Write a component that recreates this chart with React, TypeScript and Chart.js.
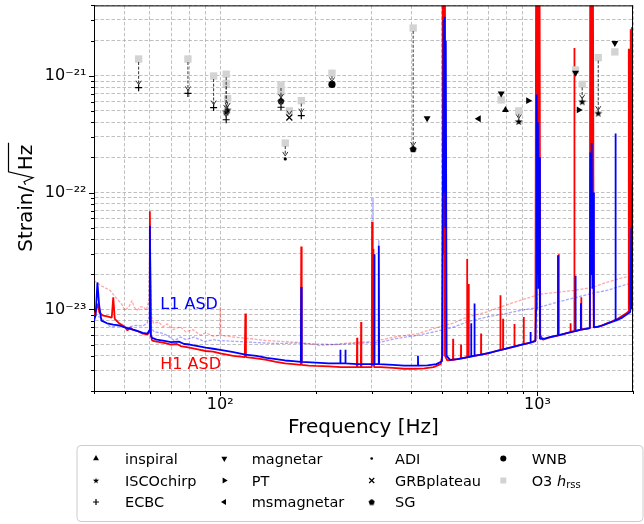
import React, { useEffect, useRef } from "react";
import { Chart, registerables } from "chart.js";
import { drawPoint } from "chart.js/helpers";

Chart.register(...registerables);

const FONT = "'DejaVu Sans', 'Noto Sans', sans-serif";

// ---------- axes ----------
const X_MIN = 40;
const X_MAX = 2000;
const Y_MIN = 2e-24;
const Y_MAX = 4e-21;
const X_TICKS = [40, 50, 60, 70, 80, 90, 100, 200, 300, 400, 500, 600, 700, 800, 900, 1000, 2000];
const X_TICK_LABELS = ["", "", "", "", "", "", "10²", "", "", "", "", "", "", "", "", "10³", ""];
const Y_TICKS = [
  2e-24, 3e-24, 4e-24, 5e-24, 6e-24, 7e-24, 8e-24, 9e-24,
  1e-23, 2e-23, 3e-23, 4e-23, 5e-23, 6e-23, 7e-23, 8e-23, 9e-23,
  1e-22, 2e-22, 3e-22, 4e-22, 5e-22, 6e-22, 7e-22, 8e-22, 9e-22,
  1e-21, 2e-21, 3e-21, 4e-21,
];
const Y_TICK_LABELS = [
  "", "", "", "", "", "", "", "",
  "10⁻²³", "", "", "", "", "", "", "", "",
  "10⁻²²", "", "", "", "", "", "", "", "",
  "10⁻²¹", "", "", "",
];

// ---------- detector ASDs: [frequency Hz, strain/sqrt(Hz)] ----------
const H1_ASD: [number, number][] = [
  [40, 8.8e-24], [40.5, 9.6e-24], [41, 1.12e-23], [41.6, 9.4e-24], [42.5, 8.9e-24], [44, 8.7e-24],
  [45.5, 8.5e-24], [46, 1.27e-23], [46.5, 8.3e-24], [48, 7.6e-24], [50, 7.1e-24], [51, 6.6e-24],
  [52, 7.0e-24], [53, 6.7e-24], [55, 6.5e-24], [57, 6.2e-24], [59, 6.1e-24], [59.7, 6.4e-24],
  [60, 6.9e-23], [60.4, 6.0e-24], [61, 5.4e-24], [63, 5.3e-24], [66, 5.2e-24], [70, 5.0e-24],
  [73, 5.05e-24], [75, 4.85e-24], [80, 4.7e-24], [85, 4.55e-24], [90, 4.4e-24], [95, 4.35e-24],
  [100, 4.2e-24], [110, 4.0e-24], [119.5, 3.9e-24], [120, 9.2e-24], [120.5, 3.9e-24], [130, 3.8e-24],
  [140, 3.7e-24], [150, 3.55e-24], [160, 3.45e-24], [170, 3.4e-24], [179.5, 3.35e-24], [180, 3.45e-23],
  [180.6, 3.35e-24], [190, 3.3e-24], [200, 3.28e-24], [220, 3.25e-24], [240, 3.2e-24], [260, 3.2e-24],
  [269.5, 3.2e-24], [270, 5.7e-24], [270.5, 3.2e-24], [277.5, 3.2e-24], [278, 7.8e-24], [278.5, 3.2e-24],
  [290, 3.2e-24], [300.3, 3.2e-24], [301, 5.6e-23], [302, 3.3e-24], [304, 3.3e-23], [305.5, 3.2e-24],
  [320, 3.2e-24], [350, 3.15e-24], [380, 3.1e-24], [410, 3.1e-24], [440, 3.12e-24], [470, 3.2e-24],
  [495, 3.4e-24], [501, 4e-24], [502.5, 1e-20], [504, 3e-23], [505.5, 1e-20], [507, 4e-23],
  [508.5, 1e-20], [511, 4e-24], [520, 3.65e-24], [541.5, 3.7e-24], [542, 5.6e-24], [542.5, 3.7e-24],
  [573.5, 3.8e-24], [574, 5e-24], [574.5, 3.8e-24], [599.5, 3.9e-24], [600, 2.7e-23], [600.7, 3.9e-24],
  [606.5, 3.9e-24], [607, 1.65e-23], [607.6, 3.9e-24], [630, 4.0e-24], [663.5, 4.1e-24], [664, 6.2e-24],
  [664.5, 4.1e-24], [700, 4.2e-24], [740, 4.4e-24], [763.5, 4.5e-24], [764, 1.32e-23], [764.6, 4.5e-24],
  [778.5, 4.55e-24], [779, 8.3e-24], [779.6, 4.55e-24], [810, 4.65e-24], [845.5, 4.8e-24], [846, 7.5e-24],
  [846.6, 4.8e-24], [880, 4.95e-24], [904.5, 5.05e-24], [905, 8.6e-24], [905.6, 5.05e-24], [950, 5.2e-24],
  [985, 5.4e-24], [990, 1e-20], [995, 5e-23], [1000, 1e-20], [1005, 3e-23], [1010, 1e-20],
  [1015, 1e-20], [1020, 6e-24], [1040, 5.5e-24], [1080, 5.7e-24], [1120, 5.85e-24], [1166, 6.0e-24],
  [1167, 2.97e-23], [1168, 6.0e-24], [1220, 6.2e-24], [1270, 6.4e-24], [1271, 7.6e-24], [1272, 6.4e-24],
  [1305.5, 6.5e-24], [1307, 1.73e-21], [1308.5, 6.5e-24], [1340, 6.6e-24], [1373, 6.7e-24], [1374, 1.27e-23],
  [1375, 6.7e-24], [1420, 6.8e-24], [1462, 6.9e-24], [1466, 1e-20], [1473, 5e-23], [1480, 1e-20],
  [1488, 4e-23], [1495, 1e-20], [1504, 7e-24], [1550, 7.1e-24], [1600, 7.3e-24], [1700, 7.8e-24],
  [1800, 8.4e-24], [1900, 9.2e-24], [1936, 9.6e-24], [1940, 1.7e-21], [1946, 1.1e-23], [1953, 1.7e-21],
  [1960, 1.2e-23], [1967, 2.5e-21], [1975, 1.2e-23], [1983, 2.6e-21], [1991, 1.4e-23], [1998, 2.6e-21],
  [2000, 1.1e-23],
];

const L1_ASD: [number, number][] = [
  [40, 8.0e-24], [40.5, 9e-24], [41, 1.7e-23], [41.5, 1.1e-23], [42.2, 8.0e-24], [44, 7.6e-24],
  [46, 7.4e-24], [48, 7.3e-24], [50, 7.0e-24], [52, 6.8e-24], [55, 6.5e-24], [57, 6.3e-24],
  [59, 6.2e-24], [59.7, 6.6e-24], [60, 5.2e-23], [60.4, 6.0e-24], [61, 5.7e-24], [63, 5.5e-24],
  [66, 5.4e-24], [70, 5.25e-24], [74, 5.3e-24], [77, 5.05e-24], [80, 5.0e-24], [85, 4.85e-24],
  [90, 4.7e-24], [95, 4.6e-24], [100, 4.5e-24], [110, 4.3e-24], [120, 4.1e-24], [130, 4.0e-24],
  [140, 3.85e-24], [150, 3.75e-24], [160, 3.65e-24], [170, 3.6e-24], [179.5, 3.55e-24], [180, 1.55e-23],
  [180.6, 3.55e-24], [200, 3.5e-24], [220, 3.45e-24], [238.5, 3.45e-24], [239, 4.5e-24], [239.5, 3.45e-24],
  [247.5, 3.45e-24], [248, 4.5e-24], [248.5, 3.45e-24], [270, 3.4e-24], [290, 3.4e-24], [305.4, 3.4e-24],
  [306, 2.97e-23], [306.8, 3.4e-24], [315.4, 3.4e-24], [316, 3.5e-23], [316.8, 3.4e-24], [350, 3.35e-24],
  [380, 3.3e-24], [419.5, 3.3e-24], [420, 4.0e-24], [420.5, 3.3e-24], [450, 3.32e-24], [480, 3.4e-24],
  [500, 3.6e-24], [503, 1e-22], [506, 3e-21], [508, 1e-22], [510, 3.2e-21], [512, 5e-23],
  [514, 2e-21], [517, 4e-24], [530, 3.7e-24], [560, 3.75e-24], [590, 3.85e-24], [617.5, 3.95e-24],
  [618, 7.6e-24], [618.6, 3.95e-24], [632.5, 4.0e-24], [633, 1.12e-23], [633.6, 4.0e-24], [680, 4.15e-24],
  [720, 4.3e-24], [780, 4.55e-24], [830, 4.75e-24], [880, 4.95e-24], [950.5, 5.2e-24], [951, 6.4e-24],
  [951.6, 5.2e-24], [985, 5.35e-24], [990, 1e-23], [994, 6.9e-22], [999, 2e-23], [1003, 4e-22],
  [1008, 1.5e-23], [1012, 2e-22], [1018, 5.6e-24], [1060, 5.65e-24], [1100, 5.8e-24], [1159, 6.0e-24],
  [1160, 2.9e-23], [1161, 6.0e-24], [1220, 6.2e-24], [1317, 6.5e-24], [1318, 1.94e-23], [1319, 6.5e-24],
  [1369, 6.7e-24], [1370, 1.13e-23], [1371, 6.7e-24], [1420, 6.8e-24], [1462, 6.9e-24], [1468, 2.2e-22],
  [1475, 2e-23], [1482, 2.65e-22], [1490, 1.5e-23], [1498, 1e-22], [1506, 7e-24], [1560, 7.1e-24],
  [1650, 7.5e-24], [1760, 8.0e-24], [1762, 3.2e-22], [1764, 8.0e-24], [1850, 8.5e-24], [1930, 9.2e-24],
  [1960, 9.5e-24], [1975, 5e-23], [1985, 1e-23], [1994, 1.2e-22], [2000, 9.8e-24],
];

// faint (reference-run) ASDs
const H1_REF_ASD: [number, number][] = [
  [40, 1.77e-23], [42, 1.6e-23], [45, 1.45e-23], [47, 1.25e-23], [49, 1.1e-23], [50, 9.8e-24],
  [51.5, 1.05e-23], [52.7, 1.19e-23], [53.5, 1.05e-23], [54.6, 9.8e-24], [56, 1.05e-23], [57.3, 1.05e-23],
  [58.5, 9.8e-24], [59.6, 1.2e-23], [60, 5e-23], [60.5, 9e-24], [61.6, 7.6e-24], [64, 7.8e-24],
  [66, 7.1e-24], [68, 7.5e-24], [71, 6.7e-24], [74.8, 7.1e-24], [78, 6.4e-24], [82, 6.7e-24],
  [86.5, 6.0e-24], [90, 6.3e-24], [95, 5.9e-24], [99.5, 6.0e-24], [100, 1.05e-23], [100.5, 6.0e-24],
  [110, 5.8e-24], [125, 5.6e-24], [140, 5.4e-24], [160, 5.3e-24], [179, 5.2e-24], [206, 4.9e-24],
  [228, 5.0e-24], [263, 5.2e-24], [300, 5.3e-24], [301, 3e-23], [302.5, 5.3e-24], [355, 5.8e-24],
  [420, 6.2e-24], [483, 7.0e-24], [540, 7.6e-24], [600, 8.6e-24], [693, 9.5e-24], [790, 1.08e-23],
  [886, 1.2e-23], [1022, 1.35e-23], [1150, 1.4e-23], [1300, 1.45e-23], [1500, 1.55e-23], [1650, 1.7e-23],
  [1832, 1.85e-23], [2000, 1.95e-23],
];

const L1_REF_ASD: [number, number][] = [
  [40, 9e-24], [42, 8.5e-24], [45, 7.1e-24], [48, 7.2e-24], [51, 7.0e-24], [54, 7.3e-24],
  [57, 7.2e-24], [58.8, 7.6e-24], [59.6, 8.6e-24], [60, 4e-23], [60.5, 7e-24], [61.9, 6.4e-24],
  [65, 6.3e-24], [68, 6.0e-24], [71.6, 5.4e-24], [75, 5.8e-24], [78, 5.5e-24], [82.8, 5.8e-24],
  [89, 5.3e-24], [95, 5.5e-24], [100, 5.4e-24], [115, 5.3e-24], [130, 5.2e-24], [150, 5.1e-24],
  [175, 5.15e-24], [200, 5.05e-24], [230, 5.0e-24], [263, 5.1e-24], [302, 5.2e-24], [303, 9e-23],
  [304, 5.2e-24], [315.5, 5.2e-24], [316, 3.9e-23], [316.7, 5.2e-24], [355, 5.6e-24], [420, 6.0e-24],
  [483, 6.5e-24], [540, 7.0e-24], [600, 7.8e-24], [693, 8.6e-24], [790, 9.2e-24], [886, 9.8e-24],
  [1022, 1.05e-23], [1150, 1.15e-23], [1300, 1.25e-23], [1500, 1.38e-23], [1650, 1.45e-23], [1832, 1.58e-23],
  [2000, 1.7e-23],
];

// ---------- search sensitivities: [frequency Hz, h_rss] ----------
const INSPIRAL: [number, number][] = [[792.5, 5.1e-22]];
const ISCOCHIRP: [number, number][] = [[104.4, 4.9e-22], [105.5, 5.1e-22], [873, 4.06e-22], [1383, 6.0e-22], [1554, 4.78e-22]];
const ECBC: [number, number][] = [[55.3, 7.9e-22], [79.1, 7.06e-22], [95.3, 5.34e-22], [104.4, 4.2e-22], [155.4, 5.37e-22], [180.1, 4.55e-22]];
const MAGNETAR: [number, number][] = [[448.8, 4.33e-22], [768.4, 7.06e-22], [1318, 1.06e-21], [1753, 1.91e-21]];
const PT: [number, number][] = [[934.8, 6.12e-22], [1349, 5.1e-22]];
const MSMAGNETAR: [number, number][] = [[652.8, 4.28e-22]];
const ADI: [number, number][] = [[160.3, 1.94e-22]];
const GRBPLATEAU: [number, number][] = [[165.1, 4.39e-22]];
const SG: [number, number][] = [[405.6, 2.36e-22], [155.4, 6.09e-22]];
const WNB: [number, number][] = [[225, 8.43e-22]];
const O3_HRSS: [number, number][] = [
  [55.3, 1.39e-21], [79.1, 1.39e-21], [95.3, 9.94e-22], [104.4, 1.03e-21], [104.4, 8.6e-22], [105.5, 6.37e-22],
  [155.4, 8.33e-22], [155.4, 7.3e-22], [160.3, 2.65e-22], [165.1, 5.0e-22], [180.1, 6.12e-22], [225, 1.05e-21],
  [405.6, 2.56e-21], [768.4, 6.21e-22], [873, 5.0e-22], [1318, 1.12e-21], [1383, 8.43e-22], [1554, 1.43e-21],
  [1753, 1.6e-21],
];

// arrows from O3 h_rss down to earlier values
const ARROW_FREQ = [55.3, 79.1, 95.3, 104.4, 104.4, 105.5, 155.4, 155.4, 160.3, 165.1, 180.1, 225, 405.6, 873, 1383, 1554];
const ARROW_FROM = [1.39e-21, 1.39e-21, 9.94e-22, 1.03e-21, 8.6e-22, 6.37e-22, 8.33e-22, 7.3e-22, 2.65e-22, 5.0e-22, 6.12e-22, 1.05e-21, 2.56e-21, 5.0e-22, 8.43e-22, 1.43e-21];
const ARROW_TO = [7.9e-22, 7.06e-22, 5.34e-22, 4.2e-22, 4.9e-22, 5.1e-22, 6.09e-22, 5.37e-22, 1.94e-22, 4.39e-22, 4.55e-22, 8.43e-22, 2.36e-22, 4.06e-22, 6.0e-22, 4.78e-22];

const ASD_LABELS = ["L1 ASD", "H1 ASD"];
const ASD_LABEL_FREQ = [64.7, 64.7];
const ASD_LABEL_VALUE = [1.1e-23, 3.33e-24];

const LEGEND_LABELS = ["inspiral", "ISCOchirp", "ECBC", "magnetar", "PT", "msmagnetar", "ADI", "GRBplateau", "SG", "WNB", "O3 h_rss"];

const pts = (a: [number, number][]) => a.map(([x, y]) => ({ x, y }));

function makeStar(size: number) {
  const c = document.createElement("canvas");
  c.width = size; c.height = size;
  const g = c.getContext("2d")!;
  const R = size / 2 - 0.3, r = R * 0.4, cx = size / 2, cy = size / 2 + 0.4;
  g.beginPath();
  for (let i = 0; i < 10; i++) {
    const a = -Math.PI / 2 + (i * Math.PI) / 5;
    const rr = i % 2 === 0 ? R : r;
    g.lineTo(cx + rr * Math.cos(a), cy + rr * Math.sin(a));
  }
  g.closePath(); g.fillStyle = "#000"; g.fill();
  return c;
}
function makePentagon(size: number) {
  const c = document.createElement("canvas");
  c.width = size; c.height = size;
  const g = c.getContext("2d")!;
  const R = size / 2 - 0.3, cx = size / 2, cy = size / 2 + 0.3;
  g.beginPath();
  for (let i = 0; i < 5; i++) {
    const a = -Math.PI / 2 + (i * 2 * Math.PI) / 5;
    g.lineTo(cx + R * Math.cos(a), cy + R * Math.sin(a));
  }
  g.closePath(); g.fillStyle = "#000"; g.fill();
  return c;
}

export default function App() {
  const ref = useRef<HTMLCanvasElement>(null);

  useEffect(() => {
    document.body.style.margin = "0";
    const canvas = ref.current!;
    const star = makeStar(9);
    const pent = makePentagon(8);

    const MARKERS: any[] = [
      { data: INSPIRAL, style: "triangle", rot: 0, r: 4, bw: 0, color: "#000" },
      { data: ISCOCHIRP, style: star, rot: 0, r: 4, bw: 0, color: "#000" },
      { data: ECBC, style: "cross", rot: 0, r: 3.5, bw: 1.2, color: "#000" },
      { data: MAGNETAR, style: "triangle", rot: 180, r: 4, bw: 0, color: "#000" },
      { data: PT, style: "triangle", rot: 90, r: 4, bw: 0, color: "#000" },
      { data: MSMAGNETAR, style: "triangle", rot: -90, r: 4, bw: 0, color: "#000" },
      { data: ADI, style: "circle", rot: 0, r: 1.6, bw: 0, color: "#000" },
      { data: GRBPLATEAU, style: "crossRot", rot: 0, r: 4.2, bw: 1.2, color: "#000" },
      { data: SG, style: pent, rot: 0, r: 4, bw: 0, color: "#000" },
      { data: WNB, style: "circle", rot: 0, r: 3.6, bw: 0, color: "#000" },
      { data: O3_HRSS, style: "rect", rot: 0, r: 5.2, bw: 0, color: "#d3d3d3" },
    ];

    const lineDs = (d: [number, number][], color: string, width: number, order: number, dash: number[]) => ({
      data: pts(d),
      showLine: true,
      borderColor: color,
      backgroundColor: color,
      borderWidth: width,
      borderDash: dash,
      borderJoinStyle: "bevel",
      pointRadius: 0,
      pointHoverRadius: 0,
      order,
    });

    const datasets: any[] = [
      lineDs(H1_REF_ASD, "rgba(255,0,0,0.35)", 1.3, 20, [3, 1.5]),
      lineDs(L1_REF_ASD, "rgba(0,0,255,0.35)", 1.3, 19, [3, 1.5]),
      lineDs(H1_ASD, "#ff0000", 1.8, 18, []),
      lineDs(L1_ASD, "#0000ff", 1.8, 17, []),
      ...MARKERS.map((m, i) => ({
        data: pts(m.data),
        showLine: false,
        pointStyle: m.style,
        pointRotation: m.rot,
        pointRadius: m.r,
        pointHoverRadius: m.r,
        pointBorderWidth: m.bw,
        borderWidth: m.bw,
        pointBackgroundColor: m.color,
        pointBorderColor: m.color,
        backgroundColor: m.color,
        borderColor: m.color,
        order: i === MARKERS.length - 1 ? 10 : 1,
        clip: false,
      })),
    ];

    const isMajorX = (i: number) => X_TICK_LABELS[i] !== "";
    const isMajorY = (i: number) => Y_TICK_LABELS[i] !== "";

    const overlay = {
      id: "overlay",
      afterDatasetsDraw(chart: any) {
        const { ctx, scales } = chart;
        const xs = scales.x, ys = scales.y;
        // arrows
        ctx.save();
        ctx.strokeStyle = "#333";
        ctx.lineWidth = 1;
        for (let i = 0; i < ARROW_FREQ.length; i++) {
          const x = xs.getPixelForValue(ARROW_FREQ[i]);
          const y1 = ys.getPixelForValue(ARROW_FROM[i]) + 3;
          const y2 = ys.getPixelForValue(ARROW_TO[i]) - 3;
          if (y2 - y1 > 3) {
            ctx.setLineDash([3, 1.6]);
            ctx.beginPath(); ctx.moveTo(x, y1); ctx.lineTo(x, y2); ctx.stroke();
          }
          ctx.setLineDash([]);
          ctx.beginPath();
          ctx.moveTo(x - 2.6, y2 - 4); ctx.lineTo(x, y2); ctx.lineTo(x + 2.6, y2 - 4);
          ctx.stroke();
        }
        ctx.restore();
        // ASD labels
        ctx.save();
        ctx.font = `16px ${FONT}`;
        ctx.textBaseline = "middle";
        ctx.textAlign = "left";
        const cols = ["#0000ff", "#ff0000"];
        for (let i = 0; i < ASD_LABELS.length; i++) {
          ctx.fillStyle = cols[i];
          ctx.fillText(ASD_LABELS[i], xs.getPixelForValue(ASD_LABEL_FREQ[i]), ys.getPixelForValue(ASD_LABEL_VALUE[i]));
        }
        ctx.restore();
      },
      afterDraw(chart: any) {
        const { ctx, scales, chartArea: ca } = chart;
        const xs = scales.x, ys = scales.y;
        ctx.save();
        // frame
        ctx.strokeStyle = "#000";
        ctx.lineWidth = 1;
        ctx.beginPath();
        ctx.moveTo(ca.left, ca.top + 0.5); ctx.lineTo(ca.right, ca.top + 0.5);
        ctx.moveTo(ca.right - 0.5, ca.top); ctx.lineTo(ca.right - 0.5, ca.bottom);
        ctx.stroke();
        // tick marks
        ctx.beginPath();
        xs.ticks.forEach((t: any, i: number) => {
          const x = Math.round(xs.getPixelForValue(t.value)) + 0.5;
          ctx.moveTo(x, ca.bottom); ctx.lineTo(x, ca.bottom + (isMajorX(i) ? 5 : 3));
        });
        ys.ticks.forEach((t: any, i: number) => {
          const y = Math.round(ys.getPixelForValue(t.value)) + 0.5;
          ctx.moveTo(ca.left, y); ctx.lineTo(ca.left - (isMajorY(i) ? 5 : 3), y);
        });
        ctx.stroke();

        // y axis title: Strain/sqrt(Hz)
        ctx.save();
        ctx.translate(32, 251.7);
        ctx.rotate(-Math.PI / 2);
        ctx.font = `20px ${FONT}`;
        ctx.fillStyle = "#000";
        ctx.textBaseline = "alphabetic";
        ctx.textAlign = "left";
        const p1 = "Strain/";
        const w1 = ctx.measureText(p1).width;
        ctx.fillText(p1, 0, 0);
        const wHz = ctx.measureText("Hz").width;
        ctx.fillText("Hz", w1 + 15.5, 0);
        ctx.lineWidth = 1.2;
        ctx.beginPath();
        ctx.moveTo(w1 + 1, -6.5);
        ctx.lineTo(w1 + 4, -8);
        ctx.lineTo(w1 + 8, 1);
        ctx.lineTo(w1 + 14, -23.5);
        ctx.lineTo(w1 + 15.5 + wHz + 2, -23.5);
        ctx.stroke();
        ctx.restore();

        // legend
        const LX = 77, LY = 445.5, LW = 566, LH = 76, R = 4;
        ctx.beginPath();
        ctx.moveTo(LX + R, LY);
        ctx.arcTo(LX + LW, LY, LX + LW, LY + LH, R);
        ctx.arcTo(LX + LW, LY + LH, LX, LY + LH, R);
        ctx.arcTo(LX, LY + LH, LX, LY, R);
        ctx.arcTo(LX, LY, LX + LW, LY, R);
        ctx.closePath();
        ctx.fillStyle = "rgba(255,255,255,0.8)";
        ctx.fill();
        ctx.strokeStyle = "#cccccc";
        ctx.lineWidth = 1;
        ctx.stroke();

        const markerX = [96, 224.3, 371.7, 503.3];
        const textX = [125, 251.7, 395, 531.7];
        const rowY = [458.5, 480.5, 502];
        for (let i = 0; i < LEGEND_LABELS.length; i++) {
          const col = Math.floor(i / 3), row = i % 3;
          const m = MARKERS[i];
          const mx = markerX[col], my = rowY[row];
          ctx.fillStyle = m.color;
          ctx.strokeStyle = m.color;
          ctx.lineWidth = m.bw || 1;
          const legendR = m.style === "rect" ? 4.2 : m.r * 0.85;
          if (typeof m.style === "string") {
            drawPoint(ctx, { pointStyle: m.style, rotation: m.rot, radius: legendR, borderWidth: m.bw }, mx, my);
          } else {
            ctx.drawImage(m.style, mx - 3.5, my - 3.5, 7, 7);
          }
          ctx.fillStyle = "#000";
          ctx.textBaseline = "alphabetic";
          ctx.textAlign = "left";
          const base = my + 5.3;
          if (LEGEND_LABELS[i] === "O3 h_rss") {
            ctx.font = `14.5px ${FONT}`;
            ctx.fillText("O3 ", textX[col], base);
            let x = textX[col] + ctx.measureText("O3 ").width;
            ctx.font = `italic 14.5px ${FONT}`;
            ctx.fillText("h", x, base);
            x += ctx.measureText("h").width;
            ctx.font = `10px ${FONT}`;
            ctx.fillText("rss", x, base + 2.5);
          } else {
            ctx.font = `14.5px ${FONT}`;
            ctx.fillText(LEGEND_LABELS[i], textX[col], base);
          }
        }
        ctx.restore();
      },
    };

    const chart = new Chart(canvas, {
      type: "scatter",
      data: { datasets },
      options: {
        animation: false,
        responsive: false,
        devicePixelRatio: 1,
        layout: { padding: { left: 0, right: 11, top: 4, bottom: 83 } },
        plugins: { legend: { display: false }, tooltip: { enabled: false } },
        events: [],
        scales: {
          x: {
            type: "logarithmic",
            min: X_MIN,
            max: X_MAX,
            position: "bottom",
            afterBuildTicks: (s: any) => { s.ticks = X_TICKS.map((v) => ({ value: v })); },
            afterFit: (s: any) => { s.height = 50; s.paddingLeft = 0; s.paddingRight = 0; s.paddingTop = 0; s.paddingBottom = 0; },
            ticks: {
              autoSkip: false, maxRotation: 0, minRotation: 0, padding: 4, color: "#000",
              font: { family: FONT, size: 16 },
              callback: (_v: any, i: number) => X_TICK_LABELS[i],
            },
            grid: { color: "#b0b0b0", lineWidth: 0.8, drawTicks: false },
            border: { display: true, color: "#000", width: 1, dash: [3.5, 2] },
            title: { display: true, text: "Frequency [Hz]", color: "#000", font: { family: FONT, size: 20 }, padding: { top: 0, bottom: 1 } },
          },
          y: {
            type: "logarithmic",
            min: Y_MIN,
            max: Y_MAX,
            position: "left",
            afterBuildTicks: (s: any) => { s.ticks = Y_TICKS.map((v) => ({ value: v })); },
            afterFit: (s: any) => { s.width = 94; s.paddingTop = 0; s.paddingBottom = 0; s.paddingLeft = 0; s.paddingRight = 0; },
            ticks: {
              autoSkip: false, padding: 7.5, color: "#000",
              font: { family: FONT, size: 16 },
              callback: (_v: any, i: number) => Y_TICK_LABELS[i],
            },
            grid: { color: "#b0b0b0", lineWidth: 0.8, drawTicks: false },
            border: { display: true, color: "#000", width: 1, dash: [3.5, 2] },
            title: { display: false },
          },
        },
      } as any,
      plugins: [overlay],
    });
    return () => chart.destroy();
  }, []);

  return <canvas ref={ref} width={644} height={524} style={{ display: "block", width: "644px", height: "524px" }} />;
}
